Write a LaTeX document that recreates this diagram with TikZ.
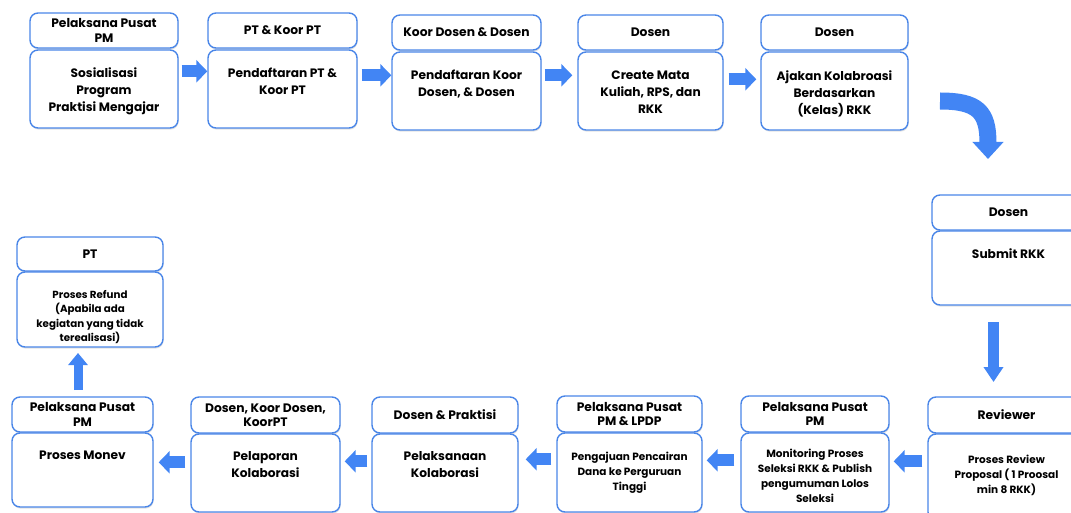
\documentclass[tikz,border=0pt]{standalone}
\usepackage{fontspec}
\setmainfont{Poppins}
\usetikzlibrary{arrows.meta,shadows}
\definecolor{bblue}{HTML}{4A86E8}
\definecolor{ablue}{HTML}{4285F4}
\tikzset{
  boxbase/.style={draw=bblue, line width=1.4pt, rounded corners=8pt, fill=white,
    drop shadow={shadow xshift=0.6pt, shadow yshift=-1.6pt, opacity=0.22}},
  hdr/.style={boxbase, align=center, inner sep=1pt,
    font=\bfseries\fontsize{12.3}{14.5}\selectfont},
  bdy/.style={boxbase},
  txt/.style={anchor=north, align=center, inner sep=0pt, font=\bfseries\fontsize{12.2}{17}\selectfont},
  stxt/.style={anchor=north, align=center, inner sep=0pt, font=\bfseries\fontsize{10.5}{15}\selectfont},
  harrow/.style={ablue, line width=12pt, -{Triangle[width=22pt,length=11pt]}},
}
\begin{document}
\begin{tikzpicture}[x=1pt,y=-1pt]
\useasboundingbox (0,0) rectangle (1071,513);
\clip (0,0) rectangle (1071,513);
% ---- top row
\node[hdr, minimum width=148pt, minimum height=35pt] (h1) at (104,30.5) {Pelaksana Pusat\\PM};
\node[bdy, minimum width=148pt, minimum height=78pt] (b1) at (104,89) {};
\node[txt] (t1) at ([yshift=-18pt]b1.north) {Sosialisasi\\Program\\Praktisi Mengajar};

\node[hdr, minimum width=149pt, minimum height=35pt] (h2) at (282.5,30.5) {PT \& Koor PT};
\node[bdy, minimum width=149pt, minimum height=78pt] (b2) at (282.5,89) {};
\node[txt] (t2) at ([yshift=-18pt]b2.north) {Pendaftaran PT \&\\Koor PT};

\node[hdr, minimum width=149pt, minimum height=35pt] (h3) at (466.5,32.5) {Koor Dosen \& Dosen};
\node[bdy, minimum width=149pt, minimum height=78pt] (b3) at (466.5,91) {};
\node[txt] (t3) at ([yshift=-18pt]b3.north) {Pendaftaran Koor\\Dosen, \& Dosen};

\node[hdr, minimum width=145pt, minimum height=35pt] (h4) at (650.5,32.5) {Dosen};
\node[bdy, minimum width=145pt, minimum height=78pt] (b4) at (650.5,91) {};
\node[txt] (t4) at ([yshift=-19pt]b4.north) {Create Mata\\Kuliah, RPS, dan\\RKK};

\node[hdr, minimum width=147pt, minimum height=35pt] (h5) at (834.5,32.5) {Dosen};
\node[bdy, minimum width=147pt, minimum height=78pt] (b5) at (834.5,91) {};
\node[txt] (t5) at ([yshift=-19pt]b5.north) {Ajakan Kolabroasi\\Berdasarkan\\(Kelas) RKK};

% ---- right column
\node[hdr, minimum width=153pt, minimum height=35pt] (h6) at (1008.5,212.5) {Dosen};
\node[bdy, minimum width=153pt, minimum height=74pt] (b6) at (1008.5,268) {};
\node[txt] (t6) at ([yshift=-18pt]b6.north) {Submit RKK};

\node[hdr, minimum width=157pt, minimum height=36pt] (h7) at (1006.5,415) {Reviewer};
\node[bdy, minimum width=157pt, minimum height=86pt] (b7) at (1006.5,477) {};
\node[stxt] (t7) at ([yshift=-22pt]b7.north) {Proses Review\\Proposal ( 1 Proosal\\min 8 RKK)};

% ---- bottom row
\node[hdr, minimum width=148pt, minimum height=36pt] (h8) at (815,414) {Pelaksana Pusat\\PM};
\node[bdy, minimum width=148pt, minimum height=79pt] (b8) at (815,472.5) {};
\node[stxt] (t8) at ([yshift=-17pt]b8.north) {Monitoring Proses\\Seleksi RKK \& Publish\\pengumuman Lolos\\Seleksi};

\node[hdr, minimum width=145pt, minimum height=36pt] (h9) at (629.5,414) {Pelaksana Pusat\\PM \& LPDP};
\node[bdy, minimum width=145pt, minimum height=79pt] (b9) at (629.5,472.5) {};
\node[stxt] (t9) at ([yshift=-20pt]b9.north) {Pengajuan Pencairan\\Dana ke Perguruan\\Tinggi};

\node[hdr, minimum width=146pt, minimum height=36pt] (h10) at (445,415) {Dosen \& Praktisi};
\node[bdy, minimum width=146pt, minimum height=78pt] (b10) at (445,473) {};
\node[txt] (t10) at ([yshift=-18pt]b10.north) {Pelaksanaan\\Kolaborasi};

\node[hdr, minimum width=149pt, minimum height=36pt] (h11) at (265.5,415) {Dosen, Koor Dosen,\\KoorPT};
\node[bdy, minimum width=149pt, minimum height=78pt] (b11) at (265.5,473) {};
\node[txt] (t11) at ([yshift=-18pt]b11.north) {Pelaporan\\Kolaborasi};

\node[hdr, minimum width=141pt, minimum height=35pt] (h12) at (82.5,414.5) {Pelaksana Pusat\\PM};
\node[bdy, minimum width=141pt, minimum height=74pt] (b12) at (82.5,470) {};
\node[txt] (t12) at ([yshift=-18pt]b12.north) {Proses Monev};

\node[hdr, minimum width=146pt, minimum height=34pt] (h13) at (90,254) {PT};
\node[bdy, minimum width=146pt, minimum height=75pt] (b13) at (90,309.5) {};
\node[stxt, font=\bfseries\fontsize{10.3}{14.4}\selectfont] (t13) at ([yshift=-19pt]b13.north) {Proses Refund\\(Apabila ada\\kegiatan yang tidak\\terealisasi)};

% ---- arrows top row
\draw[harrow] ([shift={(3pt,-22pt)}]b1.north east) -- ([yshift=-22pt]b1.north east -| b2.west);
\draw[harrow] ([shift={(4pt,-26pt)}]b2.north east) -- ([yshift=-26pt]b2.north east -| b3.west);
\draw[harrow] ([shift={(3pt,-24pt)}]b3.north east) -- ([shift={(-5pt,-24pt)}]b3.north east -| b4.west);
\draw[harrow] ([shift={(5pt,-28pt)}]b4.north east) -- ([shift={(-4pt,-28pt)}]b4.north east -| b5.west);

% curved arrow
\coordinate (c1) at (940,101);
\coordinate (c2) at (988,159);
\draw[ablue, line width=17pt, -{Triangle[width=30pt,length=17pt]}] (c1) .. controls (978,101) and (988,112) .. (c2);

% down arrow
\coordinate (d1) at (993.5,322);
\coordinate (d2) at (993.5,382);
\draw[ablue, line width=11pt, -{Triangle[width=19pt,length=15pt]}] (d1) -- (d2);

% bottom row arrows (leftwards)
\draw[harrow] ([shift={(-5pt,-28pt)}]b7.north west) -- ([shift={(4pt,-28pt)}]b7.north west -| b8.east);
\draw[harrow] ([shift={(-6pt,-28pt)}]b8.north west) -- ([shift={(4pt,-28pt)}]b8.north west -| b9.east);
\draw[harrow] ([shift={(-5pt,-27pt)}]b9.north west) -- ([shift={(7pt,-27pt)}]b9.north west -| b10.east);
\draw[harrow] ([shift={(-4pt,-28pt)}]b10.north west) -- ([shift={(4pt,-28pt)}]b10.north west -| b11.east);
\draw[harrow] ([shift={(-5pt,-29pt)}]b11.north west) -- ([shift={(5pt,-29pt)}]b11.north west -| b12.east);

% up arrow
\coordinate (u1) at (78,390);
\coordinate (u2) at (78,353);
\draw[ablue, line width=9pt, -{Triangle[width=19pt,length=12pt]}] (u1) -- (u2);
\end{tikzpicture}
\end{document}
